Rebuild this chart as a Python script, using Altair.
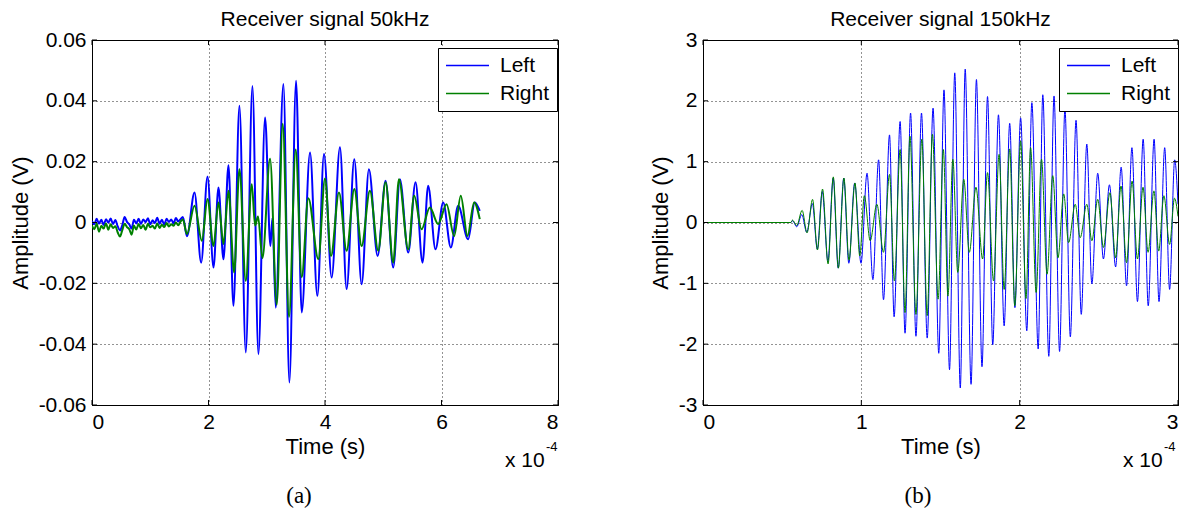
import altair as alt
import pandas as pd

FONT = "Liberation Sans"
SERIF = "Liberation Serif"
BLUE = "#0000ff"
GREEN = "#008000"
SERIES = ["Left", "Right"]
TITLES = ["Receiver signal 50kHz", "Receiver signal 150kHz"]

# ---------- panel (a): 50 kHz, time in units of 1e-4 s, amplitude in mV ----------
A_LEFT_T = [0.00, 0.04, 0.08, 0.12, 0.16, 0.20, 0.24, 0.28, 0.32, 0.36,
            0.40, 0.44, 0.48, 0.52, 0.56, 0.60, 0.64, 0.68, 0.72, 0.76,
            0.80, 0.84, 0.88, 0.92, 0.96, 1.00, 1.04, 1.08, 1.12, 1.16,
            1.20, 1.24, 1.28, 1.32, 1.36, 1.40, 1.44, 1.48, 1.52, 1.56,
            1.63, 1.76, 1.874, 1.983, 2.086, 2.171, 2.257, 2.343, 2.429, 2.531,
            2.64, 2.754, 2.857, 2.971, 3.063, 3.097, 3.154, 3.286, 3.389, 3.503,
            3.6, 3.743, 3.869, 3.983, 4.114, 4.257, 4.371, 4.503, 4.629, 4.754,
            4.903, 5.04, 5.171, 5.286, 5.429, 5.554, 5.674, 5.771, 5.897, 6.029,
            6.16, 6.286, 6.457, 6.571, 6.657]
A_LEFT_MV = [0.5, -0.6, 1.2, -0.4, 0.9, -0.8, 1.1, 0.0, 1.3, -0.5,
             0.8, -1.2, -2.6, -0.9, 1.8, 0.2, -0.6, -2.0, 0.9, -0.3,
             1.2, -0.5, 1.0, 0.1, 1.4, -0.6, 0.7, -0.2, 1.6, -0.4,
             0.9, -0.7, 1.2, 0.2, 1.0, -0.3, 1.5, 0.3, 1.1, 1.8,
             -4.5, 9.9, -13.2, 15.1, -14.8, 11.5, -12.1, 18.8, -27.4, 38.4,
             -42.7, 44.9, -43.3, 34.5, -7.7, 1.5, -28.0, 45.5, -52.6, 46.6,
             -29.6, 23.0, -24.1, 22.5, -18.1, 24.7, -21.9, 20.8, -20.3, 17.5,
             -11.0, 13.7, -14.8, 14.2, -9.9, 13.2, -13.2, 12.1, -8.8, 6.6,
             -8.2, 5.5, -5.5, 6.6, 3.8]
A_RIGHT_T = [0.00, 0.04, 0.08, 0.12, 0.16, 0.20, 0.24, 0.28, 0.32, 0.36,
             0.40, 0.44, 0.48, 0.52, 0.56, 0.60, 0.64, 0.68, 0.72, 0.76,
             0.80, 0.84, 0.88, 0.92, 0.96, 1.00, 1.04, 1.08, 1.12, 1.16,
             1.20, 1.24, 1.28, 1.32, 1.36, 1.40, 1.44, 1.48, 1.52, 1.56,
             1.63, 1.76, 1.886, 1.983, 2.086, 2.171, 2.257, 2.343, 2.44, 2.531,
             2.64, 2.743, 2.80, 2.85, 2.926, 3.057, 3.171, 3.274, 3.383, 3.497,
             3.6, 3.714, 3.886, 4.0, 4.103, 4.24, 4.371, 4.503, 4.629, 4.771,
             4.914, 5.04, 5.171, 5.269, 5.429, 5.531, 5.657, 5.8, 5.943, 6.086,
             6.217, 6.331, 6.446, 6.56, 6.657]
A_RIGHT_MV = [-1.0, -2.2, -0.4, -3.0, -1.1, -2.0, -0.3, -2.4, -0.6, -1.8,
              -1.2, -3.2, -4.6, -2.5, -0.4, -1.5, -2.2, -4.0, -1.0, -2.3,
              -0.5, -1.9, -0.8, -2.4, -0.4, -1.6, -1.1, -2.0, -0.3, -1.8,
              -0.7, -1.5, -0.2, -1.3, -0.6, -1.1, 0.0, -0.9, 0.3, 1.0,
              -3.8, 5.5, -6.0, 7.7, -7.7, 6.6, -7.1, 10.4, -16.4, 17.5,
              -19.2, 12.6, -1.0, 2.0, -11.7, 21.0, -27.0, 32.5, -31.0, 24.0,
              -18.0, 8.0, -12.0, 14.5, -11.0, 9.9, -9.3, 11.0, -7.7, 10.4,
              -9.3, 13.2, -13.2, 14.2, -8.8, 8.8, -2.2, 4.9, -0.5, 6.0,
              -4.4, 8.8, -4.4, 6.6, 1.1]
A_XTICKS = [0, 2, 4, 6, 8]
A_YTICKS = [-0.06, -0.04, -0.02, 0, 0.02, 0.04, 0.06]

# ---------- panel (b): 150 kHz, time in units of 1e-4 s, amplitude in V ----------
B_LEFT_T = [0, 0.555, 0.565, 0.592, 0.624, 0.655, 0.691, 0.722, 0.753, 0.789,
            0.822, 0.854, 0.889, 0.921, 0.958, 0.998, 1.036, 1.073, 1.109, 1.14,
            1.178, 1.207, 1.245, 1.276, 1.311, 1.345, 1.38, 1.416, 1.453, 1.489,
            1.522, 1.557, 1.59, 1.625, 1.656, 1.693, 1.727, 1.762, 1.797, 1.83,
            1.866, 1.902, 1.937, 1.97, 2.006, 2.045, 2.077, 2.117, 2.146, 2.184,
            2.217, 2.252, 2.286, 2.32, 2.356, 2.389, 2.424, 2.456, 2.493, 2.529,
            2.567, 2.606, 2.641, 2.675, 2.709, 2.744, 2.78, 2.812, 2.849, 2.88,
            2.916, 2.947, 2.979, 3.0]
B_LEFT_V = [0, 0, 0.03, -0.07, 0.13, -0.16, 0.31, -0.44, 0.51, -0.64,
            0.73, -0.75, 0.73, -0.67, 0.65, -0.67, 0.81, -0.94, 1.03, -1.27,
            1.44, -1.55, 1.66, -1.82, 1.80, -1.87, 1.80, -1.90, 1.88, -2.15,
            2.18, -2.42, 2.46, -2.72, 2.52, -2.66, 2.35, -2.37, 2.07, -2.01,
            1.77, -1.70, 1.63, -1.40, 1.72, -1.78, 1.97, -2.08, 2.10, -2.20,
            2.08, -2.12, 1.87, -1.88, 1.68, -1.51, 1.29, -1.01, 0.81, -0.60,
            0.62, -0.73, 0.91, -1.04, 1.23, -1.30, 1.37, -1.37, 1.37, -1.30,
            1.23, -1.10, 1.03, 0.3]
B_RIGHT_T = [0, 0.555, 0.565, 0.592, 0.626, 0.657, 0.692, 0.723, 0.755, 0.790,
             0.823, 0.855, 0.890, 0.922, 0.960, 0.990, 1.019, 1.056, 1.098, 1.140,
             1.178, 1.209, 1.245, 1.276, 1.307, 1.345, 1.382, 1.416, 1.449, 1.485,
             1.518, 1.547, 1.578, 1.609, 1.647, 1.682, 1.724, 1.766, 1.797, 1.835,
             1.870, 1.902, 1.937, 1.969, 2.006, 2.040, 2.069, 2.104, 2.138, 2.173,
             2.209, 2.242, 2.278, 2.309, 2.351, 2.382, 2.424, 2.456, 2.493, 2.529,
             2.570, 2.606, 2.640, 2.675, 2.710, 2.744, 2.779, 2.811, 2.848, 2.878,
             2.911, 2.947, 2.978, 3.0]
B_RIGHT_V = [0, 0, 0.04, -0.05, 0.20, -0.17, 0.38, -0.45, 0.55, -0.68,
             0.75, -0.75, 0.73, -0.62, 0.65, -0.55, 0.44, -0.30, 0.30, -0.49,
             0.79, -0.96, 1.20, -1.48, 1.42, -1.51, 1.37, -1.53, 1.45, -1.26,
             1.20, -1.21, 1.04, -0.82, 0.71, -0.49, 0.58, -0.60, 0.82, -0.96,
             1.12, -1.10, 1.21, -1.37, 1.34, -1.25, 1.23, -1.15, 1.04, -0.85,
             0.77, -0.58, 0.47, -0.33, 0.30, -0.25, 0.30, -0.30, 0.38, -0.41,
             0.49, -0.58, 0.60, -0.66, 0.68, -0.60, 0.58, -0.49, 0.52, -0.47,
             0.44, -0.36, 0.40, 0.10]
B_XTICKS = [0, 1, 2, 3]
B_YTICKS = [-3, -2, -1, 0, 1, 2, 3]

H = 365
MINUS = "\u2212"


def panel(lt, lv, rt, rv, xdom, xticks, ydom, yticks, yexpr, title, W, sw,
          letter, letter_x, exp_x, leg_x):
    dl = pd.DataFrame({"t": lt, "v": lv, "s": "Left"})
    dr = pd.DataFrame({"t": rt, "v": rv, "s": "Right"})
    xs = alt.Scale(domain=xdom, nice=False, zero=False)
    ys = alt.Scale(domain=ydom, nice=False, zero=False)
    cs = alt.Scale(domain=SERIES, range=[BLUE, GREEN])
    xa = alt.Axis(values=xticks, title="Time (s)", format="d", titlePadding=4)
    ya = alt.Axis(values=yticks, title="Amplitude (V)", labelExpr=yexpr, titlePadding=6)
    leg = alt.Legend(title=None, orient="none", legendX=leg_x, legendY=8,
                     symbolType="stroke", symbolSize=1849, symbolStrokeWidth=1.5,
                     labelFont=FONT, labelFontSize=21, labelColor="black",
                     labelOffset=10, rowPadding=6, padding=7, clipHeight=21,
                     strokeColor="black", fillColor="white")
    X = alt.X("t:Q", scale=xs, axis=xa)
    Y = alt.Y("v:Q", scale=ys, axis=ya)
    C = alt.Color("s:N", scale=cs, legend=leg)
    l1 = alt.Chart(dl).mark_line(strokeWidth=sw, clip=True, interpolate="monotone").encode(
        x=X, y=Y, color=C)
    l2 = alt.Chart(dr).mark_line(strokeWidth=sw, clip=True, interpolate="monotone").encode(
        x=X, y=Y, color=C)

    xt = pd.DataFrame({"t": xticks})
    yt = pd.DataFrame({"v": yticks})
    tb = alt.Chart(xt).mark_rule(color="black").encode(x=X, y=alt.value(H), y2=alt.value(H - 5))
    tt = alt.Chart(xt).mark_rule(color="black").encode(x=X, y=alt.value(0), y2=alt.value(5))
    tl = alt.Chart(yt).mark_rule(color="black").encode(y=Y, x=alt.value(0), x2=alt.value(5))
    tr = alt.Chart(yt).mark_rule(color="black").encode(y=Y, x=alt.value(W - 5), x2=alt.value(W))

    e1 = alt.Chart(pd.DataFrame({"s": ["x 10"]})).mark_text(
        font=FONT, fontSize=21, align="left", baseline="alphabetic", color="black"
    ).encode(text="s:N", x=alt.value(exp_x), y=alt.value(H + 62))
    e2 = alt.Chart(pd.DataFrame({"s": ["-4"]})).mark_text(
        font=FONT, fontSize=13, align="left", baseline="alphabetic", color="black"
    ).encode(text="s:N", x=alt.value(exp_x + 41), y=alt.value(H + 46))
    lab = alt.Chart(pd.DataFrame({"s": [letter]})).mark_text(
        font=SERIF, fontSize=23, align="center", baseline="middle", color="black"
    ).encode(text="s:N", x=alt.value(letter_x), y=alt.value(H + 91))

    return alt.layer(l1, l2, tb, tt, tl, tr, e1, e2, lab).properties(
        width=W, height=H,
        title=alt.TitleParams(title, font=FONT, fontSize=21, fontWeight="normal",
                              color="black", anchor="middle", offset=-1),
    )


A_EXPR = "datum.value == 0 ? '0' : replace(format(datum.value, '.2f'), '" + MINUS + "', '-')"
B_EXPR = "replace(format(datum.value, 'd'), '" + MINUS + "', '-')"

pa = panel(A_LEFT_T, [v / 1000 for v in A_LEFT_MV], A_RIGHT_T, [v / 1000 for v in A_RIGHT_MV],
           [0, 8], A_XTICKS, [-0.06, 0.06], A_YTICKS, A_EXPR, TITLES[0], 466, 2.0,
           "(a)", 207, 413, 346)
pb = panel(B_LEFT_T, B_LEFT_V, B_RIGHT_T, B_RIGHT_V,
           [0, 3], B_XTICKS, [-3, 3], B_YTICKS, B_EXPR, TITLES[1], 475, 1.0,
           "(b)", 215, 420, 356)

chart = alt.hconcat(pa, pb, spacing=89).resolve_scale(
    x="independent", y="independent", color="independent"
).properties(
    padding={"left": 0, "top": 0, "right": 0, "bottom": 0}
).configure_view(
    stroke="black", strokeWidth=1
).configure_axis(
    labelFont=FONT, labelFontSize=21, labelColor="black", labelPadding=6,
    titleFont=FONT, titleFontSize=22, titleFontWeight="normal", titleColor="black",
    domainColor="black", domainWidth=1, ticks=False,
    grid=True, gridColor="black", gridDash=[1, 3], gridWidth=1, gridOpacity=0.85,
)

chart.save("out.html", embed_options={"renderer": "svg", "actions": False})
